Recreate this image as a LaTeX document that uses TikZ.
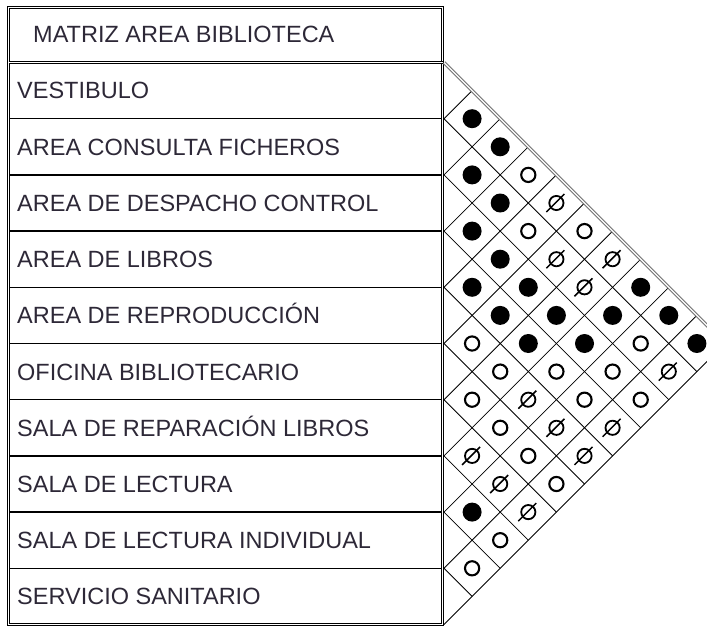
\documentclass[tikz,border=0pt]{standalone}
\usepackage{fontspec}
\setmainfont{Liberation Sans}
\usepackage{tikz}
\usetikzlibrary{calc}
\usepackage{xcolor}
\definecolor{labelink}{RGB}{45,40,55}

\tikzset{
  frameline/.style={double, line width=0.9pt, double distance=1.4pt},
  rowline/.style={line width=1.4pt},
  gridline/.style={line width=0.8pt},
  topedge/.style={double, draw=black!55, line width=1pt, double distance=1.4pt},
  rowlabel/.style={anchor=base west, inner sep=0pt, text=labelink,
    font=\fontsize{23.5}{28}\selectfont},
  fullrel/.style={circle, fill=black, inner sep=0pt, minimum size=19pt},
  openrel/.style={circle, draw=black, line width=2.1pt, inner sep=0pt, minimum size=14.2pt},
  halfrel/.style={circle, draw=black, line width=1.8pt, inner sep=0pt, minimum size=14.2pt}
}

\begin{document}
\begin{tikzpicture}[x=1pt, y=-1pt]
  \useasboundingbox (0,0) rectangle (707,626);
  \clip (0,0) rectangle (707,626);
  \def\h{56.2}

  \coordinate (TL) at (8.7,7.3);
  \coordinate (BR) at (442.5,624.5);
  \coordinate (V) at (444,62.5);
  \coordinate (O) at (444,624.5);

  % table
  \draw[frameline] (TL) rectangle (BR);
  \draw[frameline] (8.7,62.5) -- (442.5,62.5);
  \foreach \k in {1,...,9}
    \draw[rowline] (10,62.5+\k*\h) -- (441,62.5+\k*\h);

  \node[rowlabel] (title) at (33,42.9) {MATRIZ AREA BIBLIOTECA};
  \foreach \name [count=\k] in {VESTIBULO, AREA CONSULTA FICHEROS,
      AREA DE DESPACHO CONTROL, AREA DE LIBROS, AREA DE REPRODUCCIÓN,
      OFICINA BIBLIOTECARIO, SALA DE REPARACIÓN LIBROS, SALA DE LECTURA,
      SALA DE LECTURA INDIVIDUAL, SERVICIO SANITARIO}
    \node[rowlabel] (r\k) at (17,62.5+\k*\h-\h/2+8.4) {\name};

  % diamond grid
  \foreach \k in {1,...,9} {
    \draw[gridline] (444,62.5+\k*\h) -- ++({(10-\k)*\h/2},{(10-\k)*\h/2});
    \draw[gridline] (444,62.5+\k*\h) -- ++({\k*\h/2},{-\k*\h/2});
  }
  \draw[gridline] (O) -- ++(5*\h,-5*\h);
  \draw[topedge] (V) -- ++(5*\h,5*\h);

  % relations
  \foreach \i/\j in {0/1,1/2,2/3,3/4,7/8,0/2,1/3,2/4,3/5,2/5,3/6,2/6,2/7,1/7,0/7,0/8,0/9}
    \node[fullrel] (c\i\j) at ({444+(\j-\i)*\h/2},{62.5+(\i+\j+1)*\h/2}) {};
  \foreach \i/\j in {4/5,5/6,8/9,4/6,5/7,7/9,0/3,1/4,5/8,3/7,5/9,0/5,3/8,2/8,1/8,2/9}
    \node[openrel] (c\i\j) at ({444+(\j-\i)*\h/2},{62.5+(\i+\j+1)*\h/2}) {};
  \foreach \i/\j in {6/7,6/8,4/7,6/9,0/4,1/5,4/8,1/6,4/9,0/6,3/9,1/9} {
    \node[halfrel] (c\i\j) at ({444+(\j-\i)*\h/2},{62.5+(\i+\j+1)*\h/2}) {};
    \draw[line width=1.5pt] (c\i\j.center) ++(-10,9) -- ++(18,-18);
  }
\end{tikzpicture}
\end{document}
